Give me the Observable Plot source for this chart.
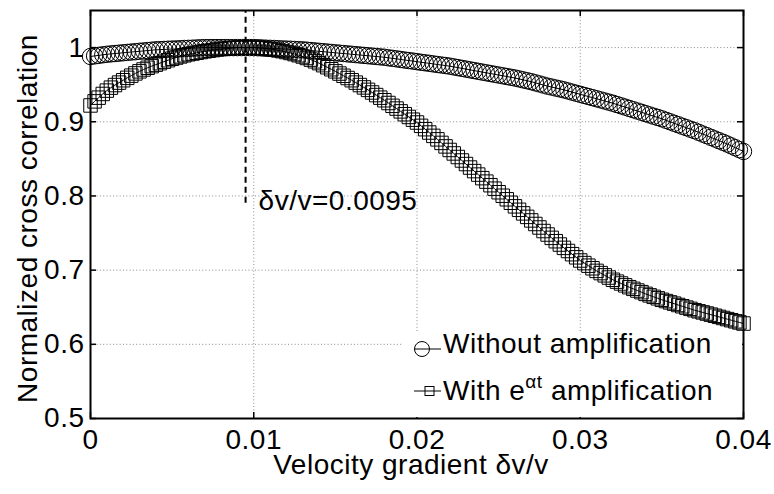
<!DOCTYPE html>
<html><head><meta charset="utf-8">
<script src="https://cdn.jsdelivr.net/npm/d3@7"></script>
<script src="https://cdn.jsdelivr.net/npm/@observablehq/plot@0.6"></script>
<style>body{margin:0;background:#fff} svg{display:block}</style>
</head><body><div id="chart"></div>
<script>
// ---- data ----
const xStep = 0.00025; // sampling interval of δv/v for both series (161 samples, 0 .. 0.04)
const withoutAmp = [
.9880,.9888,.9895,.9903, .9910,.9915,.9920,.9925, .9930,.9935,.9940,.9945, .9950,.9955,.9960,.9965,
.9970,.9972,.9975,.9978, .9980,.9982,.9985,.9988, .9990,.9992,.9995,.9998, 1.000,1.000,1.000,1.000,
1.000,1.000,1.000,1.000, 1.000,1.000,1.000,1.000, 1.000,.9998,.9995,.9992, .9990,.9988,.9985,.9982,
.9980,.9978,.9975,.9972, .9970,.9965,.9960,.9955, .9950,.9945,.9940,.9935, .9930,.9925,.9920,.9915,
.9910,.9905,.9900,.9895, .9890,.9885,.9880,.9875, .9870,.9862,.9855,.9848, .9840,.9832,.9825,.9818,
.9810,.9802,.9795,.9788, .9780,.9772,.9765,.9758, .9750,.9740,.9730,.9720, .9710,.9700,.9690,.9680,
.9670,.9660,.9650,.9640, .9630,.9620,.9610,.9600, .9590,.9578,.9565,.9553, .9540,.9525,.9510,.9495,
.9480,.9468,.9455,.9443, .9430,.9415,.9400,.9385, .9370,.9355,.9340,.9325, .9310,.9295,.9280,.9265,
.9250,.9232,.9215,.9198, .9180,.9162,.9145,.9128, .9110,.9092,.9075,.9058, .9040,.9020,.9000,.8980,
.8960,.8940,.8920,.8900, .8880,.8858,.8835,.8813, .8790,.8768,.8745,.8723, .8700,.8675,.8650,.8625,
.8600];
const withAmp = [
.9220,.9275,.9325,.9375, .9420,.9460,.9495,.9528, .9560,.9592,.9622,.9652, .9680,.9705,.9728,.9750,
.9770,.9790,.9810,.9830, .9850,.9866,.9881,.9896, .9910,.9920,.9930,.9940, .9950,.9958,.9966,.9974,
.9980,.9985,.9990,.9995, 1.000,1.000,1.000,1.000, 1.000,.9997,.9993,.9987, .9980,.9972,.9962,.9952,
.9940,.9927,.9912,.9897, .9880,.9860,.9838,.9815, .9790,.9763,.9735,.9708, .9680,.9650,.9620,.9590,
.9560,.9528,.9495,.9463, .9430,.9395,.9360,.9325, .9290,.9253,.9215,.9178, .9140,.9102,.9065,.9028,
.8990,.8945,.8900,.8855, .8810,.8763,.8715,.8668, .8620,.8573,.8525,.8478, .8430,.8383,.8335,.8288,
.8240,.8193,.8145,.8098, .8050,.8003,.7955,.7908, .7860,.7813,.7765,.7718, .7670,.7622,.7575,.7527,
.7480,.7435,.7390,.7345, .7300,.7258,.7215,.7173, .7130,.7095,.7060,.7025, .6990,.6960,.6930,.6900,
.6870,.6845,.6820,.6795, .6770,.6748,.6725,.6703, .6680,.6660,.6640,.6620, .6600,.6583,.6565,.6548,
.6530,.6513,.6495,.6478, .6460,.6445,.6430,.6415, .6400,.6385,.6370,.6355, .6340,.6325,.6310,.6295,
.6280];
const xTicks = [0, 0.01, 0.02, 0.03, 0.04];
const xTickLabels = ["0", "0.01", "0.02", "0.03", "0.04"];
const yTicks = [0.5, 0.6, 0.7, 0.8, 0.9, 1];
const yTickLabels = ["0.5", "0.6", "0.7", "0.8", "0.9", "1"];
const xDomain = [0, 0.04];
const yDomain = [0.5, 1.05];
const peakX = 0.0095;
const peakLineBottom = 0.79;
const peakLabel = "δv/v=0.0095";
const peakLabelY = 0.793;
const xLabel = "Velocity gradient δv/v";
const yLabel = "Normalized cross correlation";
const legendText1 = "Without amplification";

// ---- build ----
const W = 774, H = 494, mL = 90, mR = 31, mT = 10, mB = 76;
const pw = W - mL - mR, ph = H - mT - mB;
const font = "'Liberation Sans', Arial, Helvetica, sans-serif";
const FS = 28;
const rowsA = withoutAmp.map((v, i) => ({x: i * xStep, y: v}));
const rowsB = withAmp.map((v, i) => ({x: i * xStep, y: v}));

const plot = Plot.plot({
  width: W, height: H,
  marginLeft: mL, marginRight: mR, marginTop: mT, marginBottom: mB,
  style: {fontFamily: font, background: "white", overflow: "visible", letterSpacing: "0.5px"},
  x: {domain: xDomain, axis: null},
  y: {domain: yDomain, axis: null},
  marks: [
    Plot.ruleX(xTicks, {x: d => d, stroke: "#8a8a8a", strokeWidth: 1, strokeDasharray: "1,2.3"}),
    Plot.ruleY(yTicks, {y: d => d, stroke: "#8a8a8a", strokeWidth: 1, strokeDasharray: "1,2.3"}),
    Plot.ruleX([peakX], {x: d => d, y1: peakLineBottom, y2: yDomain[1], stroke: "black", strokeWidth: 2, strokeDasharray: "6,4"}),
    Plot.line(rowsA, {x: "x", y: "y", stroke: "black", strokeWidth: 1}),
    Plot.dot(rowsA, {x: "x", y: "y", r: 8.2, stroke: "black", fill: "none", strokeWidth: 1}),
    Plot.line(rowsB, {x: "x", y: "y", stroke: "black", strokeWidth: 1}),
    Plot.dot(rowsB, {x: "x", y: "y", r: 7.6, symbol: "square", stroke: "black", fill: "none", strokeWidth: 1}),
    // inward ticks on all four sides
    Plot.ruleX(xTicks, {x: d => d, insetTop: ph - 6, stroke: "black", strokeWidth: 1.5}),
    Plot.ruleX(xTicks, {x: d => d, insetBottom: ph - 6, stroke: "black", strokeWidth: 1.5}),
    Plot.ruleY(yTicks, {y: d => d, insetRight: pw - 6, stroke: "black", strokeWidth: 1.5}),
    Plot.ruleY(yTicks, {y: d => d, insetLeft: pw - 6, stroke: "black", strokeWidth: 1.5}),
    Plot.frame({stroke: "black", strokeWidth: 2}),
    Plot.text(xTicks, {x: d => d, text: (d, i) => xTickLabels[i], frameAnchor: "bottom", lineAnchor: "top", textAnchor: "middle", dy: 11, fontSize: FS, fill: "black"}),
    Plot.text(yTicks, {y: d => d, text: (d, i) => yTickLabels[i], frameAnchor: "left", textAnchor: "end", lineAnchor: "middle", dx: -6, fontSize: FS, fill: "black"}),
    Plot.text([xLabel], {text: d => d, frameAnchor: "bottom", lineAnchor: "middle", textAnchor: "middle", dy: 47, dx: -6, fontSize: FS, fill: "black"}),
    Plot.text([yLabel], {text: d => d, frameAnchor: "left", textAnchor: "middle", lineAnchor: "middle", dx: -62, dy: 4, rotate: -90, fontSize: FS, fill: "black"}),
    Plot.text([peakLabel], {text: d => d, x: peakX, y: peakLabelY, textAnchor: "start", lineAnchor: "middle", dx: 13, fontSize: FS, fill: "black"})
  ]
});
document.getElementById("chart").appendChild(plot);

// ---- legend (bottom-right, inside the axes) ----
const svg = d3.select(plot);
const right = mL + pw, bottom = mT + ph;
const lg = svg.append("g").attr("font-family", font).attr("font-size", FS)
  .attr("text-anchor", "start").style("letter-spacing", "0.5px");
lg.append("rect").attr("x", right - 340).attr("y", bottom - 86).attr("width", 339).attr("height", 85)
  .style("fill", "white").style("stroke", "none");
const y1 = bottom - 69, y2 = bottom - 27;
// entry 1: circles
lg.append("line").attr("x1", right - 329).attr("x2", right - 302).attr("y1", y1).attr("y2", y1).style("stroke", "black");
lg.append("circle").attr("cx", right - 321).attr("cy", y1).attr("r", 7.5).style("fill", "none").style("stroke", "black");
lg.append("text").attr("x", right - 300).attr("y", y1 + 4).style("fill", "black").text(legendText1);
// entry 2: squares
lg.append("line").attr("x1", right - 329).attr("x2", right - 302).attr("y1", y2).attr("y2", y2).style("stroke", "black");
lg.append("rect").attr("x", right - 318).attr("y", y2 - 4.5).attr("width", 9).attr("height", 9).style("fill", "none").style("stroke", "black");
const t2 = lg.append("text").attr("x", right - 300).attr("y", y2 + 9).style("fill", "black");
t2.append("tspan").text("With e");
t2.append("tspan").attr("font-size", 19).attr("dy", -12).text("αt");
t2.append("tspan").attr("dy", 12).text(" amplification");
</script>
</body></html>
